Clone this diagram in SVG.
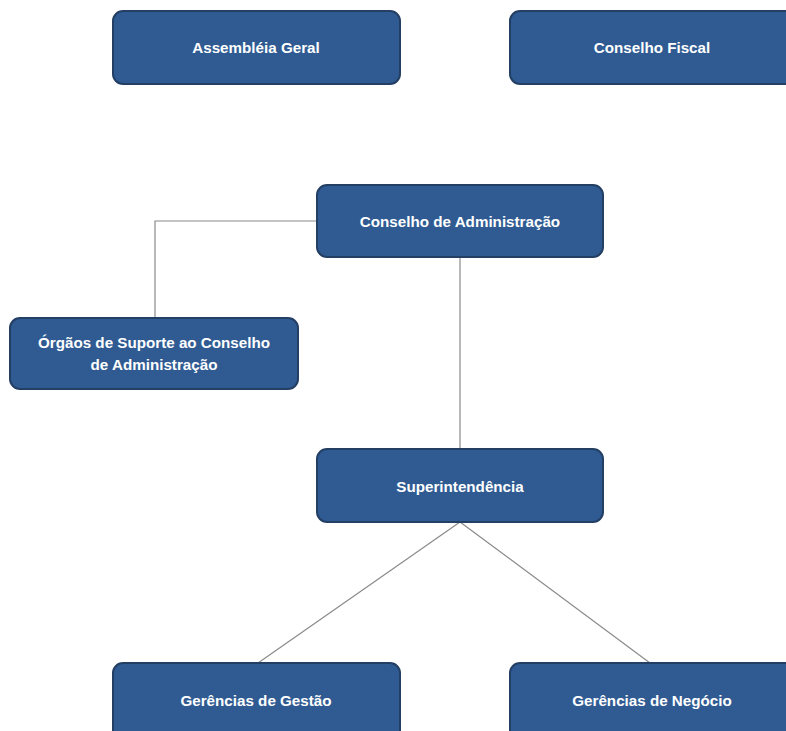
<svg xmlns="http://www.w3.org/2000/svg" width="786" height="731" viewBox="0 0 786 731">
<style>
.box{fill:#2f5b92;stroke:#233f63;stroke-width:2}
.lbl{fill:#ffffff;font-family:"Liberation Sans",Arial,sans-serif;font-weight:bold;font-size:15.2px;text-anchor:middle;dominant-baseline:central}
.con{stroke:#8a8a8a;stroke-width:1.2;fill:none}
</style>
<rect width="786" height="731" fill="#ffffff"/>
<g id="connectors">
<polyline class="con" points="317,221 155,221 155,318"/>
<line class="con" x1="460" y1="257" x2="460" y2="449"/>
<line class="con" x1="460" y1="522" x2="258" y2="663"/>
<line class="con" x1="460" y1="522" x2="650" y2="663"/>
</g>
<g id="assembleia">
<rect class="box" x="113" y="11" width="287" height="73" rx="10"/>
<text class="lbl" x="256" y="47">Assembléia Geral</text>
</g>
<g id="conselho-fiscal">
<rect class="box" x="510" y="11" width="290" height="73" rx="10"/>
<text class="lbl" x="652" y="47">Conselho Fiscal</text>
</g>
<g id="conselho-admin">
<rect class="box" x="317" y="185" width="286" height="72" rx="10"/>
<text class="lbl" x="460" y="221">Conselho de Administração</text>
</g>
<g id="orgaos">
<rect class="box" x="10" y="318" width="288" height="71" rx="10"/>
<text class="lbl" x="154" y="342">Órgãos de Suporte ao Conselho</text>
<text class="lbl" x="154" y="364">de Administração</text>
</g>
<g id="superintendencia">
<rect class="box" x="317" y="449" width="286" height="73" rx="10"/>
<text class="lbl" x="460" y="486">Superintendência</text>
</g>
<g id="gestao">
<rect class="box" x="113" y="663" width="287" height="80" rx="10"/>
<text class="lbl" x="256" y="700">Gerências de Gestão</text>
</g>
<g id="negocio">
<rect class="box" x="510" y="663" width="290" height="80" rx="10"/>
<text class="lbl" x="652" y="700">Gerências de Negócio</text>
</g>
</svg>
